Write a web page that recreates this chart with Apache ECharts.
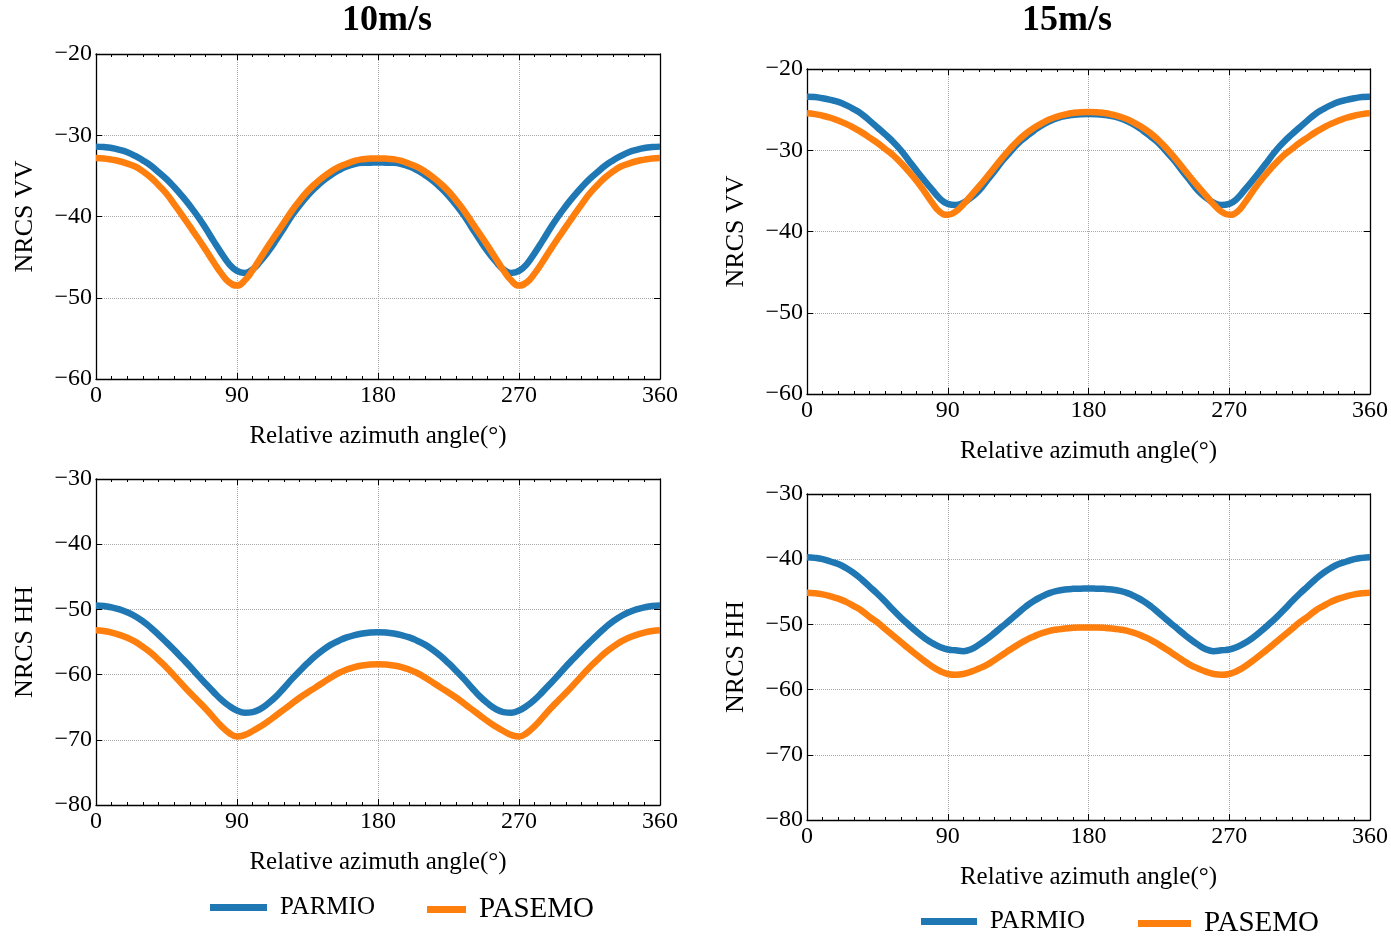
<!DOCTYPE html>
<html>
<head>
<meta charset="utf-8">
<title>NRCS vs relative azimuth</title>
<script src="https://cdn.jsdelivr.net/npm/echarts@6/dist/echarts.min.js"></script>
<style>
  html, body { margin: 0; padding: 0; background: #fff; }
  #chart { width: 1391px; height: 936px; }
</style>
</head>
<body>
<div id="chart"></div>
<script>
// 横轴：相对方位角 (每 5 度取一个读数)
const angles = [0, 5, 10, 15, 20, 25, 30, 35, 40, 45, 50, 55, 60, 65, 70, 75, 80, 85, 90,
  95, 100, 105, 110, 115, 120, 125, 130, 135, 140, 145, 150, 155, 160, 165, 170, 175, 180,
  185, 190, 195, 200, 205, 210, 215, 220, 225, 230, 235, 240, 245, 250, 255, 260, 265, 270,
  275, 280, 285, 290, 295, 300, 305, 310, 315, 320, 325, 330, 335, 340, 345, 350, 355, 360];
const xTicks = [0, 90, 180, 270, 360];
const vvTicks = [-60, -50, -40, -30, -20];
const hhTicks = [-80, -70, -60, -50, -40, -30];

// 10m/s VV
const vv10Parmio = [-31.4, -31.45, -31.57, -31.8, -32.1, -32.55, -33.1, -33.75, -34.55, -35.4, -36.4, -37.5, -38.7, -40.0, -41.45, -43.0, -44.5, -45.85, -46.7,
  -46.95, -46.5, -45.5, -44.3, -42.9, -41.4, -39.9, -38.6, -37.45, -36.45, -35.6, -34.9, -34.3, -33.85, -33.55, -33.4, -33.37, -33.35,
  -33.37, -33.4, -33.55, -33.85, -34.3, -34.9, -35.6, -36.45, -37.45, -38.6, -39.9, -41.4, -42.9, -44.3, -45.5, -46.5, -46.95, -46.7,
  -45.85, -44.5, -43.0, -41.45, -40.0, -38.7, -37.5, -36.4, -35.4, -34.55, -33.75, -33.1, -32.55, -32.1, -31.8, -31.57, -31.45, -31.4];
const vv10Pasemo = [-32.8, -32.85, -33.0, -33.2, -33.5, -33.85, -34.45, -35.2, -36.15, -37.2, -38.5, -39.85, -41.25, -42.65, -44.1, -45.6, -47.0, -48.1, -48.5,
  -47.85, -46.6, -45.1, -43.6, -42.15, -40.75, -39.3, -38.05, -36.9, -35.95, -35.15, -34.45, -33.9, -33.5, -33.15, -32.95, -32.87, -32.85,
  -32.87, -32.95, -33.15, -33.5, -33.9, -34.45, -35.15, -35.95, -36.9, -38.05, -39.3, -40.75, -42.15, -43.6, -45.1, -46.6, -47.85, -48.5,
  -48.1, -47.0, -45.6, -44.1, -42.65, -41.25, -39.85, -38.5, -37.2, -36.15, -35.2, -34.45, -33.85, -33.5, -33.2, -33.0, -32.85, -32.8];
// 15m/s VV
const vv15Parmio = [-23.4, -23.45, -23.6, -23.8, -24.05, -24.45, -24.95, -25.55, -26.35, -27.2, -28.05, -28.95, -30.0, -31.25, -32.5, -33.7, -34.85, -35.95, -36.6,
  -36.75, -36.45, -35.8, -34.95, -33.75, -32.55, -31.3, -30.2, -29.15, -28.35, -27.6, -26.95, -26.45, -26.05, -25.8, -25.65, -25.57, -25.55,
  -25.57, -25.65, -25.8, -26.05, -26.45, -26.95, -27.6, -28.35, -29.15, -30.2, -31.3, -32.55, -33.75, -34.95, -35.8, -36.45, -36.75, -36.6,
  -35.95, -34.85, -33.7, -32.5, -31.25, -30.0, -28.95, -28.05, -27.2, -26.35, -25.55, -24.95, -24.45, -24.05, -23.8, -23.6, -23.45, -23.4];
const vv15Pasemo = [-25.45, -25.55, -25.75, -26.0, -26.35, -26.75, -27.25, -27.8, -28.45, -29.1, -29.85, -30.6, -31.55, -32.6, -33.75, -35.05, -36.45, -37.6, -37.95,
  -37.55, -36.65, -35.55, -34.45, -33.3, -32.1, -30.9, -29.8, -28.8, -27.95, -27.25, -26.7, -26.2, -25.85, -25.6, -25.42, -25.32, -25.3,
  -25.32, -25.42, -25.6, -25.85, -26.2, -26.7, -27.25, -27.95, -28.8, -29.8, -30.9, -32.1, -33.3, -34.45, -35.55, -36.65, -37.55, -37.95,
  -37.6, -36.45, -35.05, -33.75, -32.6, -31.55, -30.6, -29.85, -29.1, -28.45, -27.8, -27.25, -26.75, -26.35, -26.0, -25.75, -25.55, -25.45];
// 10m/s HH
const hh10Parmio = [-49.4, -49.48, -49.7, -50.0, -50.45, -51.05, -51.85, -52.8, -53.9, -55.05, -56.25, -57.5, -58.75, -60.1, -61.4, -62.65, -63.85, -64.8, -65.5,
  -65.85, -65.75, -65.25, -64.4, -63.35, -62.05, -60.7, -59.45, -58.25, -57.15, -56.2, -55.4, -54.8, -54.3, -53.95, -53.7, -53.55, -53.5,
  -53.55, -53.7, -53.95, -54.3, -54.8, -55.4, -56.2, -57.15, -58.25, -59.45, -60.7, -62.05, -63.35, -64.4, -65.25, -65.75, -65.85, -65.5,
  -64.8, -63.85, -62.65, -61.4, -60.1, -58.75, -57.5, -56.25, -55.05, -53.9, -52.8, -51.85, -51.05, -50.45, -50.0, -49.7, -49.48, -49.4];
const hh10Pasemo = [-53.2, -53.3, -53.55, -53.9, -54.35, -54.95, -55.75, -56.65, -57.75, -58.9, -60.2, -61.5, -62.8, -64.0, -65.25, -66.6, -67.9, -68.95, -69.5,
  -69.25, -68.65, -67.95, -67.15, -66.25, -65.35, -64.45, -63.55, -62.75, -62.0, -61.2, -60.45, -59.75, -59.25, -58.85, -58.6, -58.45, -58.4,
  -58.45, -58.6, -58.85, -59.25, -59.75, -60.45, -61.2, -62.0, -62.75, -63.55, -64.45, -65.35, -66.25, -67.15, -67.95, -68.65, -69.25, -69.5,
  -68.95, -67.9, -66.6, -65.25, -64.0, -62.8, -61.5, -60.2, -58.9, -57.75, -56.65, -55.75, -54.95, -54.35, -53.9, -53.55, -53.3, -53.2];
// 15m/s HH
const hh15Parmio = [-39.7, -39.8, -40.0, -40.35, -40.75, -41.35, -42.15, -43.1, -44.2, -45.3, -46.5, -47.75, -48.95, -50.05, -51.1, -52.05, -52.85, -53.45, -53.85,
  -53.98, -54.1, -53.8, -53.1, -52.25, -51.3, -50.3, -49.3, -48.25, -47.25, -46.4, -45.75, -45.2, -44.85, -44.65, -44.55, -44.52, -44.5,
  -44.52, -44.55, -44.65, -44.85, -45.2, -45.75, -46.4, -47.25, -48.25, -49.3, -50.3, -51.3, -52.25, -53.1, -53.8, -54.1, -53.98, -53.85,
  -53.45, -52.85, -52.05, -51.1, -50.05, -48.95, -47.75, -46.5, -45.3, -44.2, -43.1, -42.15, -41.35, -40.75, -40.35, -40.0, -39.8, -39.7];
const hh15Pasemo = [-45.15, -45.22, -45.4, -45.7, -46.05, -46.55, -47.2, -47.9, -48.85, -49.7, -50.7, -51.7, -52.7, -53.7, -54.65, -55.6, -56.45, -57.15, -57.6,
  -57.72, -57.6, -57.25, -56.75, -56.2, -55.45, -54.65, -53.85, -53.1, -52.4, -51.85, -51.35, -51.0, -50.78, -50.62, -50.53, -50.49, -50.48,
  -50.49, -50.53, -50.62, -50.78, -51.0, -51.35, -51.85, -52.4, -53.1, -53.85, -54.65, -55.45, -56.2, -56.75, -57.25, -57.6, -57.72, -57.6,
  -57.15, -56.45, -55.6, -54.65, -53.7, -52.7, -51.7, -50.7, -49.7, -48.85, -47.9, -47.2, -46.55, -46.05, -45.7, -45.4, -45.22, -45.15];

const FONT = 'Liberation Serif';
const BLUE = '#1f77b4';
const ORANGE = '#ff7f0e';

// 四个子图的位置
const panels = [
  { grid: { left: 96, top: 54, width: 564, height: 325 }, yTicks: vvTicks, yName: 'NRCS VV', a: vv10Parmio, b: vv10Pasemo },
  { grid: { left: 807, top: 69, width: 564, height: 325 }, yTicks: vvTicks, yName: 'NRCS VV', a: vv15Parmio, b: vv15Pasemo },
  { grid: { left: 96, top: 479, width: 564, height: 326 }, yTicks: hhTicks, yName: 'NRCS HH', a: hh10Parmio, b: hh10Pasemo },
  { grid: { left: 807, top: 494, width: 564, height: 326 }, yTicks: hhTicks, yName: 'NRCS HH', a: hh15Parmio, b: hh15Pasemo }
];

const pairs = vals => angles.map((a, i) => [a, vals[i]]);
const minus = v => String(v).replace('-', '\u2212');

let grid = [], xAxis = [], yAxis = [], series = [];
panels.forEach((p, i) => {
  grid.push(p.grid);
  const tickStyle = { show: true, inside: true, length: 6, lineStyle: { color: '#000', width: 1 } };
  const lineStyle = { show: true, onZero: false, lineStyle: { color: '#000', width: 1.3 } };
  // 底部 x 轴
  xAxis.push({
    type: 'value', gridIndex: i, min: xTicks[0], max: xTicks[xTicks.length - 1], interval: 90,
    axisLine: lineStyle, axisTick: tickStyle,
    minorTick: { show: true, splitNumber: 9, length: 3, lineStyle: { color: '#000' } },
    axisLabel: { fontFamily: FONT, fontSize: 24, color: '#000', margin: 5 },
    splitLine: { show: true, lineStyle: { type: 'dotted', color: '#a8a8a8', width: 1 } },
    name: 'Relative azimuth angle(°)', nameLocation: 'middle', nameGap: 45,
    nameTextStyle: { fontFamily: FONT, fontSize: 25, color: '#000' }
  });
  // 顶部边框
  xAxis.push({
    type: 'value', gridIndex: i, position: 'top', min: xTicks[0], max: xTicks[xTicks.length - 1], interval: 90,
    axisLine: lineStyle, axisTick: tickStyle,
    minorTick: { show: true, splitNumber: 9, length: 3, lineStyle: { color: '#000' } },
    axisLabel: { show: false }, splitLine: { show: false }
  });
  // 左侧 y 轴
  yAxis.push({
    type: 'value', gridIndex: i, min: p.yTicks[0], max: p.yTicks[p.yTicks.length - 1], interval: 10,
    axisLine: lineStyle, axisTick: tickStyle,
    axisLabel: { fontFamily: FONT, fontSize: 24, color: '#000', margin: 4, formatter: minus },
    splitLine: { show: true, lineStyle: { type: 'dotted', color: '#a8a8a8', width: 1 } },
    name: p.yName, nameLocation: 'middle', nameGap: 58,
    nameTextStyle: { fontFamily: FONT, fontSize: 26, color: '#000' }
  });
  // 右侧边框
  yAxis.push({
    type: 'value', gridIndex: i, position: 'right', min: p.yTicks[0], max: p.yTicks[p.yTicks.length - 1], interval: 10,
    axisLine: lineStyle, axisTick: tickStyle,
    axisLabel: { show: false }, splitLine: { show: false }
  });
  series.push({
    name: 'PARMIO', type: 'line', xAxisIndex: 2 * i, yAxisIndex: 2 * i, data: pairs(p.a),
    smooth: 0.5, showSymbol: false, color: BLUE, lineStyle: { width: 6.5 }
  });
  series.push({
    name: 'PASEMO', type: 'line', xAxisIndex: 2 * i, yAxisIndex: 2 * i, data: pairs(p.b),
    smooth: 0.5, showSymbol: false, color: ORANGE, lineStyle: { width: 6.5 }
  });
});

// 图例：每个子图列下方各一组
const legendItem = (name, left, top, w, size) => ({
  data: [name], left: left, top: top, icon: 'rect', itemWidth: w, itemHeight: 7, itemGap: 0,
  selectedMode: false, textStyle: { fontFamily: FONT, fontSize: size, color: '#000', padding: [0, 0, 0, 8] }
});

let myChart = echarts.init(document.getElementById('chart'));
let option = {
  animation: false,
  backgroundColor: '#fff',
  graphic: [
    { type: 'text', x: 387, y: 21, style: { text: '10m/s', font: 'bold 36px "Liberation Serif"', fill: '#000', align: 'center', verticalAlign: 'middle', textAlign: 'center', textVerticalAlign: 'middle' } },
    { type: 'text', x: 1067, y: 21, style: { text: '15m/s', font: 'bold 36px "Liberation Serif"', fill: '#000', align: 'center', verticalAlign: 'middle', textAlign: 'center', textVerticalAlign: 'middle' } }
  ],
  legend: [
    legendItem('PARMIO', 205, 890, 57, 25),
    legendItem('PASEMO', 422, 890, 39, 29),
    legendItem('PARMIO', 916, 904, 56, 25),
    legendItem('PASEMO', 1133, 904, 53, 29)
  ],
  grid: grid,
  xAxis: xAxis,
  yAxis: yAxis,
  series: series
};
myChart.setOption(option);
</script>
</body>
</html>
